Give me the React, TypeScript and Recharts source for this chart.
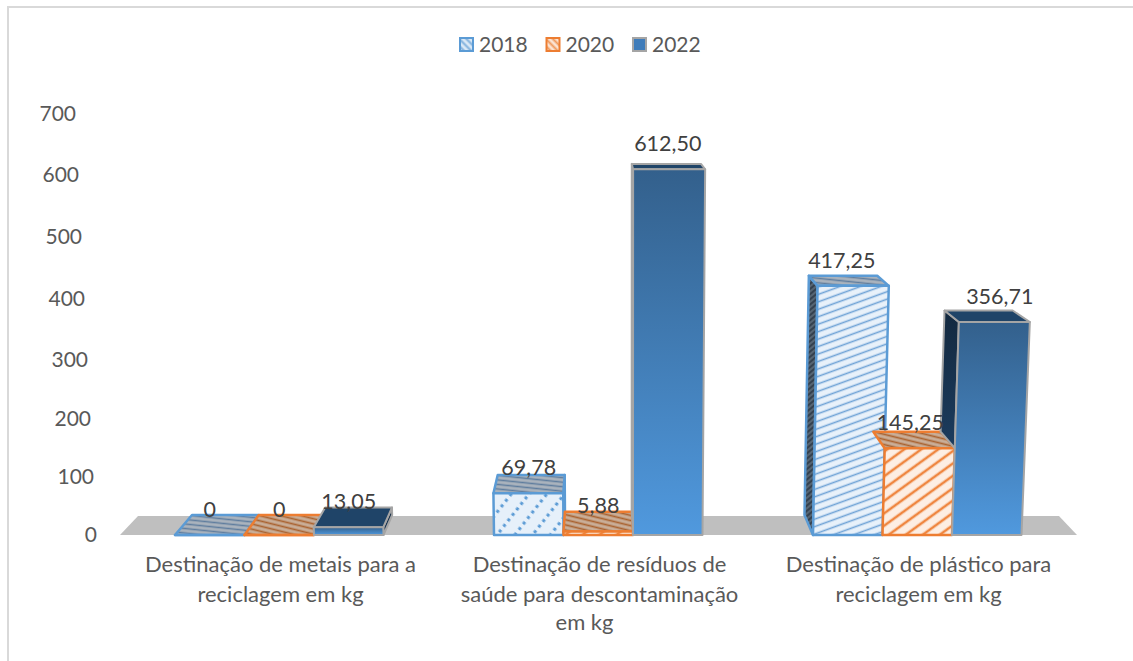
import { Bar, BarChart, LabelList, Legend, XAxis, YAxis } from 'recharts';

const tickLines = [
  ['Destinação de metais para a', 'reciclagem em kg'],
  ['Destinação de resíduos de', 'saúde para descontaminação', 'em kg'],
  ['Destinação de plástico para', 'reciclagem em kg'],
];
const categories = tickLines.map((lines) => lines.join(' '));
const values2018 = [0, 69.78, 417.25];
const values2020 = [0, 5.88, 145.25];
const values2022 = [13.05, 612.5, 356.71];
const yTicks = [0, 100, 200, 300, 400, 500, 600, 700];

const data = categories.map((name, i) => ({
  name,
  s2018: values2018[i],
  s2020: values2020[i],
  s2022: values2022[i],
}));

const FONT = 'Lato, Carlito, sans-serif';
const BASE_Y = 535;
// vanishing point of the fake 3d box
const VP_X = 600;
const VP_Y = 35;
const DEPTH = 0.04;
const LEAN = 0.0001;

// front-top corner of a column edge, leaning with height like the excel perspective
const front = (x: number, h: number) => ({ x: x + (x - 630) * h * LEAN, y: BASE_Y - h });
const back = (p: { x: number; y: number }) => ({
  x: p.x + (VP_X - p.x) * DEPTH,
  y: p.y + (VP_Y - p.y) * DEPTH,
});
const pts = (list: { x: number; y: number }[]) => list.map((p) => `${p.x},${p.y}`).join(' ');

type Look = {
  stroke: string;
  face: (i: number) => string;
  top: string;
  side: string;
  leftKey?: string;
};

const looks: Record<string, Look> = {
  s2018: {
    stroke: '#5b9bd5',
    face: (i) => (i === 1 ? 'url(#blueDots)' : 'url(#blueFace)'),
    top: 'url(#blueTop)',
    side: 'url(#blueSide)',
  },
  s2020: {
    stroke: '#ed7d31',
    face: () => 'url(#orangeFace)',
    top: 'url(#orangeTop)',
    side: 'url(#orangeTop)',
    leftKey: 's2018',
  },
  s2022: {
    stroke: '#a5a5a5',
    face: () => 'url(#darkFace)',
    top: '#1f4468',
    side: 'url(#darkSide)',
    leftKey: 's2020',
  },
};

const Column = (props: any, key: string) => {
  const { x, width, height, index, payload } = props;
  const look = looks[key];
  const h = height || 0;
  const xr = x + width;
  const fl = front(x, h);
  const fr = front(xr, h);
  const bl = back(fl);
  const br = back(fr);
  const base = [
    { x, y: BASE_Y },
    { x: xr, y: BASE_Y },
  ];

  let sidePoly: { x: number; y: number }[] | null = null;
  if (h > 0 && bl.x < fl.x - 0.5) {
    // left face only shows above the neighbour standing in front of it
    const leftVal = look.leftKey ? payload[look.leftKey] : 0;
    const nh = (leftVal * h) / payload[key];
    if (nh < h) {
      const nf = front(x, nh);
      sidePoly = [fl, bl, back(nf), nf];
    }
  } else if (h > 0 && br.x > fr.x + 0.5) {
    sidePoly = [fr, br, back(base[1]), base[1]];
  }

  const strokeW = key === 's2022' ? 2 : 2.5;
  return (
    <g>
      {sidePoly && <polygon points={pts(sidePoly)} fill={look.side} stroke={look.stroke} strokeWidth={strokeW} strokeLinejoin="round" />}
      <polygon points={pts([fl, bl, br, fr])} fill={look.top} stroke={look.stroke} strokeWidth={strokeW} strokeLinejoin="round" />
      <polygon points={pts([base[0], base[1], fr, fl])} fill={look.face(index)} stroke={look.stroke} strokeWidth={strokeW} strokeLinejoin="round" />
    </g>
  );
};

const labelNudge: Record<string, number> = { s2018: -6, s2020: -7, s2022: 13 };

const ValueLabel = (props: any, key: string) => {
  const { x, y, width, value, index } = props;
  const text = value === 0 ? '0' : Number(value).toFixed(2).replace('.', ',');
  const dx = index === 2 ? labelNudge[key] : 0;
  return (
    <text x={x + width / 2 + dx} y={y - 25} dy={7} textAnchor="middle" fontFamily={FONT} fontSize={21.5} fill="#404040">
      {text}
    </text>
  );
};

const yTickBow: Record<number, number> = { 100: 2, 200: 3, 300: 4, 400: 3, 500: 0.5, 600: -2, 700: -3.5 };

const YTick = ({ y, payload }: any) => (
  <text
    x={97 - payload.value * 0.03}
    y={y + (yTickBow[payload.value] || 0)}
    dy={7}
    textAnchor="end"
    fontFamily={FONT}
    fontSize={21}
    fill="#595959"
  >
    {payload.value}
  </text>
);

const XTick = ({ x, payload }: any) => {
  const lines = tickLines[categories.indexOf(payload.value)] || [];
  return (
    <text textAnchor="middle" fontFamily={FONT} fontSize={22} fill="#595959">
      {lines.map((line, i) => (
        <tspan key={line} x={i === 2 ? x - 14 : x + 1} y={572 + i * 30 - (i === 2 ? 2 : 0)}>
          {line}
        </tspan>
      ))}
    </text>
  );
};

const legendItems = [
  { label: '2018', fill: 'url(#blueSwatch)', stroke: '#5b9bd5' },
  { label: '2020', fill: 'url(#orangeSwatch)', stroke: '#ed7d31' },
  { label: '2022', fill: '#3f7cba', stroke: '#a5a5a5' },
];

const LegendRow = () => (
  <svg width={1133} height={30} style={{ display: 'block' }}>
    {legendItems.map((item, i) => (
      <g key={item.label} transform={`translate(${460 + i * 86.5},0)`}>
        <rect x={0} y={9} width={13} height={13} fill={item.fill} stroke={item.stroke} strokeWidth={2} />
        <text x={19} y={23} fontFamily={FONT} fontSize={21} fill="#595959">
          {item.label}
        </text>
      </g>
    ))}
  </svg>
);

const Hatch = ({ id, bg, line, size, width, angle, dash }: any) => (
  <pattern id={id} width={size} height={size} patternUnits="userSpaceOnUse" patternTransform={`rotate(${angle})`}>
    <rect width={size} height={size} fill={bg} />
    <line x1={0} y1={size / 2} x2={size} y2={size / 2} stroke={line} strokeWidth={width} strokeDasharray={dash} />
  </pattern>
);

export default function App() {
  return (
    <div style={{ position: 'absolute', left: 0, top: 0, width: 1133, height: 661, background: '#fff' }}>
      <div
        style={{
          position: 'absolute',
          left: 7,
          top: 6,
          right: 0,
          bottom: 0,
          borderLeft: '2px solid #d9d9d9',
          borderTop: '2px solid #d9d9d9',
        }}
      />
      <BarChart
        width={1133}
        height={661}
        data={data}
        barSize={69.5}
        barGap={0}
        margin={{ top: 88, right: 56, left: 0, bottom: 0 }}
        style={{ position: 'absolute', left: 0, top: 0 }}
      >
        <defs>
          <Hatch id="blueFace" bg="#e8f1fa" line="#6fa3d6" size={7} width={1.6} angle={-20} />
          <Hatch id="blueDots" bg="#e6f0fa" line="#5b9bd5" size={14} width={3} angle={-52} dash="3 4" />
          <Hatch id="blueTop" bg="#aab3bd" line="#5f7d9e" size={4.5} width={1.5} angle={6} />
          <Hatch id="blueSide" bg="#566573" line="#2b3846" size={4} width={1.6} angle={-40} />
          <Hatch id="orangeFace" bg="#fdeee3" line="#ef8640" size={10} width={2.6} angle={-36} />
          <Hatch id="orangeTop" bg="#c9ae98" line="#a9622f" size={5} width={1.7} angle={14} />
          <Hatch id="blueSwatch" bg="#dbe9f6" line="#7fb0dd" size={5} width={2} angle={45} />
          <Hatch id="orangeSwatch" bg="#fbe3d2" line="#f09a5e" size={5} width={2} angle={45} />
          <linearGradient id="darkFace" x1="0" y1="0" x2="0" y2="1">
            <stop offset="0%" stopColor="#33608c" />
            <stop offset="100%" stopColor="#5099de" />
          </linearGradient>
          <linearGradient id="darkSide" x1="0" y1="0" x2="0" y2="1">
            <stop offset="0%" stopColor="#13293f" />
            <stop offset="100%" stopColor="#1c3c5e" />
          </linearGradient>
        </defs>
        <polygon points="120,535 138,516 1059,516 1077,535" fill="#bfbfbf" />
        <Legend
          verticalAlign="top"
          content={<LegendRow />}
          height={29}
          wrapperStyle={{ top: 29, left: 0, width: 1133 }}
        />
        <XAxis dataKey="name" height={126} axisLine={false} tickLine={false} interval={0} tick={<XTick />} />
        <YAxis width={120} domain={[0, 700]} ticks={yTicks} axisLine={false} tickLine={false} tick={<YTick />} />
        {['s2018', 's2020', 's2022'].map((key) => (
          <Bar key={key} dataKey={key} isAnimationActive={false} shape={(p: any) => Column(p, key)}>
            <LabelList dataKey={key} content={(p: any) => ValueLabel(p, key)} />
          </Bar>
        ))}
      </BarChart>
    </div>
  );
}
